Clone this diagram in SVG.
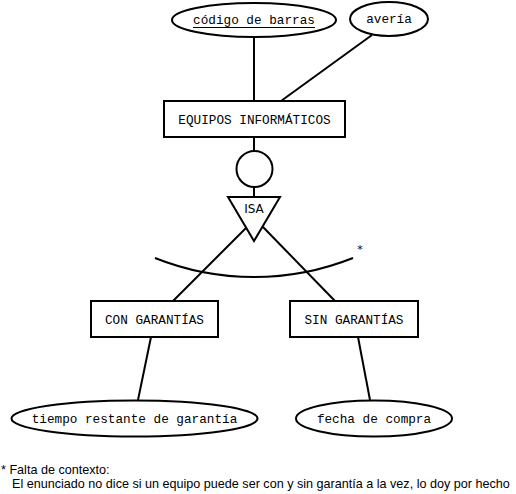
<svg xmlns="http://www.w3.org/2000/svg" width="516" height="494" viewBox="0 0 516 494">
<style>
.s{fill:#fff;stroke:#000;stroke-width:2}
.m{font-family:"Liberation Mono","Courier New",monospace;font-size:12.7px;fill:#000;text-anchor:middle}
.c line,.c path{stroke:#000;stroke-width:2;fill:none}
.f{font-family:"Liberation Sans",Arial,sans-serif;font-size:12.6px;fill:#000}
</style>
<rect width="516" height="494" fill="#fff"/>
<g class="c" id="connectors">
<line x1="254" y1="37" x2="254" y2="101"/>
<line x1="372" y1="35" x2="281" y2="101"/>
<line x1="254" y1="137" x2="254" y2="151"/>
<line x1="254" y1="187" x2="254" y2="197"/>
<line x1="247" y1="227" x2="173" y2="301"/>
<line x1="263" y1="227" x2="335" y2="301"/>
<path d="M155,258 A267,267 0 0 0 353,258"/>
<line x1="151" y1="337" x2="138" y2="400"/>
<line x1="358" y1="337" x2="370" y2="400"/>
</g>
<g id="codigo"><ellipse class="s" cx="254" cy="20" rx="82" ry="17"/><text class="m" x="254" y="24">código de barras</text><line x1="193" y1="27.5" x2="315" y2="27.5" stroke="#000" stroke-width="1.2"/></g>
<g id="averia"><ellipse class="s" cx="389" cy="19" rx="39" ry="17"/><text class="m" x="389" y="23">avería</text></g>
<g id="equipos"><rect class="s" x="164" y="101" width="181" height="36"/><text class="m" x="254.5" y="124">EQUIPOS INFORMÁTICOS</text></g>
<g id="circulo"><circle class="s" cx="254.5" cy="169" r="18"/></g>
<g id="isa"><polygon class="s" points="228,197 280,197 254,241"/><text x="254" y="213" font-family="DejaVu Sans,Verdana,sans-serif" font-size="12" text-anchor="middle">ISA</text></g>
<text x="360" y="253" font-family="DejaVu Sans,Verdana,sans-serif" font-size="11" text-anchor="middle">*</text>
<g id="con"><rect class="s" x="91" y="301" width="127" height="36"/><text class="m" x="154.5" y="324">CON GARANTÍAS</text></g>
<g id="sin"><rect class="s" x="290" y="301" width="128" height="36"/><text class="m" x="354" y="324">SIN GARANTÍAS</text></g>
<g id="tiempo"><ellipse class="s" cx="134.5" cy="418.5" rx="123" ry="18"/><text class="m" x="134.5" y="423">tiempo restante de garantía</text></g>
<g id="fecha"><ellipse class="s" cx="374" cy="418.5" rx="78" ry="18"/><text class="m" x="374" y="423">fecha de compra</text></g>
<text class="f" x="1" y="474">* Falta de contexto:</text>
<text class="f" x="12" y="488">El enunciado no dice si un equipo puede ser con y sin garantía a la vez, lo doy por hecho</text>
</svg>
